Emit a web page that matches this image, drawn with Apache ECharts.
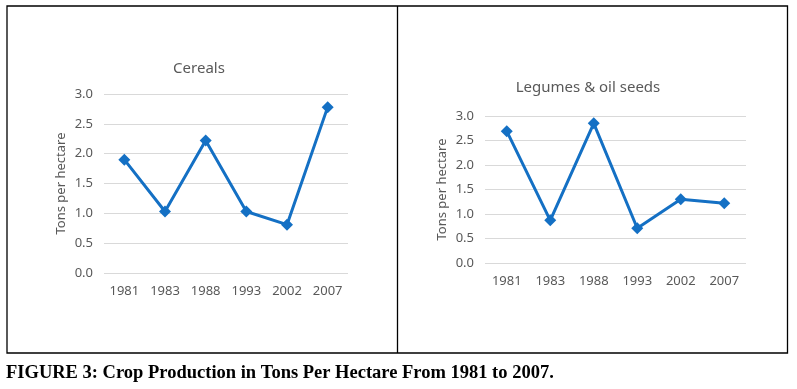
<!DOCTYPE html>
<html>
<head>
<meta charset="utf-8">
<script src="https://cdn.jsdelivr.net/npm/echarts@6/dist/echarts.min.js"></script>
<style>
  html, body { margin: 0; padding: 0; background: #fff; }
  #chart { width: 797px; height: 389px; }
</style>
</head>
<body>
<div id="chart"></div>
<script>
var years = ['1981', '1983', '1988', '1993', '2002', '2007'];
var cereals = [1.90, 1.03, 2.22, 1.03, 0.81, 2.78];
var legumes = [2.69, 0.87, 2.85, 0.71, 1.30, 1.22];

var textColor = '#595959';
var lineColor = '#1470c4';
var font = '"Noto Sans", sans-serif';

var chart = echarts.init(document.getElementById('chart'));

function xAxisFor(idx) {
  return {
    type: 'category',
    gridIndex: idx,
    data: years,
    axisLine: { show: false },
    axisTick: { show: false },
    axisLabel: { color: textColor, fontSize: 13, fontFamily: font, margin: 12 }
  };
}

function yAxisFor(idx) {
  return {
    type: 'value',
    gridIndex: idx,
    min: 0,
    max: 3,
    interval: 0.5,
    name: 'Tons per hectare',
    nameLocation: 'middle',
    nameGap: 36,
    nameTextStyle: { color: textColor, fontSize: 13, fontFamily: font },
    axisLine: { show: false },
    axisTick: { show: false },
    axisLabel: {
      color: textColor, fontSize: 13, fontFamily: font, margin: 11,
      formatter: function (v) { return v.toFixed(1); }
    },
    splitLine: { lineStyle: { color: '#d9d9d9', width: 1 } }
  };
}

function lineFor(idx, data) {
  return {
    type: 'line',
    xAxisIndex: idx,
    yAxisIndex: idx,
    data: data,
    symbol: 'diamond',
    symbolSize: 12,
    lineStyle: { color: lineColor, width: 3 },
    itemStyle: { color: lineColor },
    animation: false
  };
}

var option = {
  animation: false,
  grid: [
    { left: 104, right: 449, top: 94, bottom: 116 },
    { left: 485, right: 51, top: 116, bottom: 126 }
  ],
  xAxis: [xAxisFor(0), xAxisFor(1)],
  yAxis: [yAxisFor(0), yAxisFor(1)],
  series: [lineFor(0, cereals), lineFor(1, legumes)],
  graphic: [
    {
      type: 'rect',
      shape: { x: 7, y: 6, width: 780.5, height: 347 },
      style: { fill: null, stroke: '#000', lineWidth: 1.3 }
    },
    {
      type: 'line',
      shape: { x1: 397.5, y1: 6, x2: 397.5, y2: 353 },
      style: { stroke: '#000', lineWidth: 1.3 }
    },
    {
      type: 'text',
      x: 199, y: 69,
      style: {
        text: 'Cereals', fill: textColor, font: '15px ' + font,
        textAlign: 'center', textVerticalAlign: 'middle'
      }
    },
    {
      type: 'text',
      x: 588, y: 88,
      style: {
        text: 'Legumes & oil seeds', fill: textColor, font: '15px ' + font,
        textAlign: 'center', textVerticalAlign: 'middle'
      }
    },
    {
      type: 'text',
      x: 6, y: 373,
      style: {
        text: 'FIGURE 3: Crop Production in Tons Per Hectare From 1981 to 2007.',
        fill: '#000', font: 'bold 18.5px "Liberation Serif", serif',
        textAlign: 'left', textVerticalAlign: 'middle'
      }
    }
  ]
};

chart.setOption(option);
window.addEventListener('resize', function () {
  chart.resize();
});
</script>
</body>
</html>
